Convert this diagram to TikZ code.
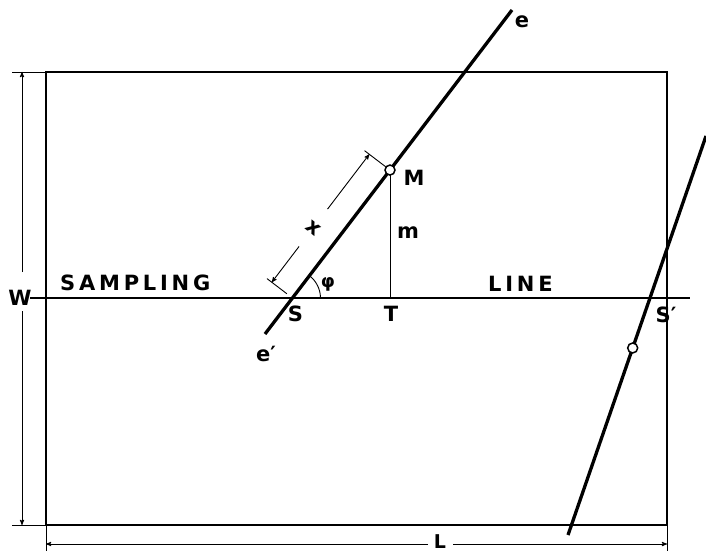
\documentclass[tikz,border=0pt]{standalone}
\usepackage{fontspec}
\setmainfont{DejaVu Sans}
\usetikzlibrary{shapes,arrows,positioning,calc}

\begin{document}
\begin{tikzpicture}[
    x=1pt, y=-1pt,
    frame/.style={draw, line width=1.9pt},
    sampling/.style={draw, line width=1.5pt},
    needle/.style={draw, line width=3.3pt},
    thin/.style={draw, line width=0.9pt},
    dimline/.style={draw, ->, >=stealth', line width=0.9pt},
    lbl/.style={font=\fontsize{21}{21}\selectfont\bfseries, inner sep=0pt},
    spaced/.style={font=\fontsize{21}{21}\selectfont\bfseries\addfontfeature{LetterSpace=18}, inner sep=0pt},
    hole/.style={circle, draw, line width=1.5pt, fill=white, inner sep=0pt, minimum size=10pt}
]
    \useasboundingbox (0,0) rectangle (706,553);

    % field and sampling line
    \coordinate (nw) at (46,72);
    \coordinate (se) at (667,525);
    \coordinate (sw) at (46,525);
    \coordinate (ne) at (667,72);
    \path [frame] (nw) rectangle (se);
    \coordinate (lineL) at (30,298);
    \coordinate (lineR) at (690,298);
    \path [sampling] (lineL) -- (lineR);
    \node [spaced, anchor=south west] (sampl) at (60,291) {SAMPLING};
    \node [spaced, anchor=south west] (linetxt) at (488,292) {LINE};

    % needle e'-e
    \coordinate (eLow) at (265,334);
    \coordinate (eHigh) at (512,10);
    \path [needle] (eLow) -- (eHigh);
    \coordinate (S) at (intersection of eLow--eHigh and lineL--lineR);
    \coordinate (M) at ($(eLow)!0.506!(eHigh)$);
    \coordinate (T) at (M |- S);
    \path [thin] (M) -- (T);
    \node [hole] (Mhole) at (M) {};
    \node [lbl] (e') at (266,354) {e′};
    \node [lbl] (e) at (522,22) {e};
    \node [lbl] (Mlbl) at (414,178) {M};
    \node [lbl] (mlbl) at (408,233) {m};
    \node [lbl, anchor=north] (Tlbl) at ($(T)+(1,8)$) {T};
    \node [lbl, anchor=north] (Slbl) at ($(S)+(3,8)$) {S};

    % angle phi
    \path [thin] ([shift={(28,0)}]S) arc [start angle=0, end angle=52.7, radius=28pt];
    \node [font=\fontsize{18}{18}\selectfont\bfseries, inner sep=0pt] (phi) at (328,284) {φ};

    % dimension x
    \coordinate (xA) at ($(S)!26pt!90:(M)$);
    \coordinate (xB) at ($(M)!26pt!-90:(S)$);
    \path [thin] ($(S)!7pt!90:(M)$) -- ($(S)!32pt!90:(M)$);
    \path [thin] ($(M)!5pt!-90:(S)$) -- ($(M)!32pt!-90:(S)$);
    \path [dimline] ($(xA)!45pt!(xB)$) -- (xA);
    \path [dimline] ($(xA)!92pt!(xB)$) -- (xB);
    \node [lbl] (xlbl) at ($(xA)!68pt!(xB)$) {\rotatebox{-38}{x}};

    % second needle
    \coordinate (rLow) at (568,535);
    \coordinate (rHigh) at (706,136);
    \path [needle] (rLow) -- (rHigh);
    \coordinate (S2) at (intersection of rLow--rHigh and lineL--lineR);
    \node [hole] (rhole) at ($(rLow)!0.4687!(rHigh)$) {};
    \node [lbl] (S2lbl) at (666,315) {S′};

    % dimension W
    \coordinate (wTop) at (22,72);
    \coordinate (wBot) at (22,525);
    \path [thin] (12,72) -- (nw);
    \path [thin] (12,525) -- (sw);
    \node [lbl] (Wlbl) at (20,298) {W};
    \path [dimline] (22,272) -- (wTop);
    \path [dimline] (22,311) -- (wBot);

    % dimension L
    \coordinate (lLeft) at (46,544);
    \coordinate (lRight) at (667,544);
    \path [thin] (sw) -- (46,551);
    \path [thin] (se) -- (667,551);
    \node [lbl, font=\fontsize{19}{19}\selectfont\bfseries, anchor=base] (Llbl) at (440,548) {L};
    \path [dimline] (428,544) -- (lLeft);
    \path [dimline] (453,544) -- (lRight);
\end{tikzpicture}
\end{document}
